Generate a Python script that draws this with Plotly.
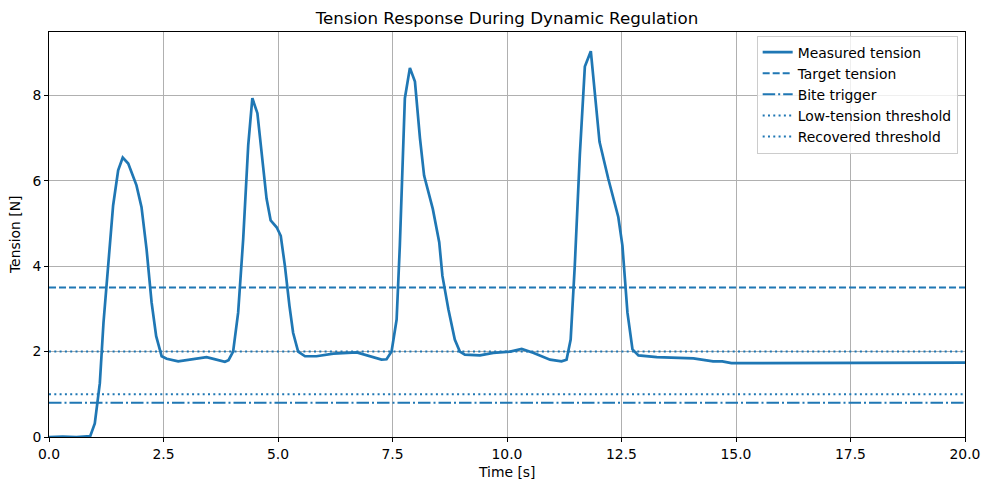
import plotly.graph_objects as go

# measured tension
time_s = [0.0, 0.3, 0.6, 0.9, 1.0, 1.11, 1.19, 1.26, 1.32, 1.40, 1.51, 1.61, 1.73, 1.91, 2.02,
          2.13, 2.24, 2.34, 2.46, 2.57, 2.82, 3.15, 3.44, 3.59, 3.84, 3.92, 4.02, 4.13, 4.24,
          4.35, 4.44, 4.55, 4.64, 4.75, 4.84, 4.97, 5.06, 5.15, 5.25, 5.33, 5.44, 5.59, 5.84,
          6.21, 6.72, 7.0, 7.26, 7.37, 7.48, 7.59, 7.66, 7.77, 7.88, 7.99, 8.10, 8.19, 8.38,
          8.52, 8.59, 8.72, 8.86, 8.97, 9.08, 9.41, 9.70, 10.07, 10.32, 10.57, 10.94, 11.19,
          11.30, 11.39, 11.48, 11.59, 11.70, 11.83, 12.02, 12.21, 12.43, 12.52, 12.63, 12.74,
          12.87, 13.27, 13.64, 14.07, 14.5, 14.7, 14.9, 15.5, 16.5, 17.5, 18.5, 20.0]
tension_n = [0.0, 0.01, 0.0, 0.02, 0.32, 1.26, 2.68, 3.6, 4.32, 5.42, 6.24, 6.54, 6.4, 5.89, 5.38,
             4.4, 3.15, 2.36, 1.89, 1.83, 1.77, 1.83, 1.87, 1.83, 1.76, 1.8, 2.0, 2.91, 4.63,
             6.83, 7.93, 7.58, 6.6, 5.58, 5.07, 4.91, 4.71, 4.01, 3.07, 2.44, 2.0, 1.89, 1.89,
             1.95, 1.98, 1.89, 1.81, 1.82, 2.0, 2.75, 4.48, 7.93, 8.64, 8.32, 6.99, 6.12, 5.34,
             4.56, 3.77, 2.99, 2.28, 2.0, 1.93, 1.91, 1.97, 2.0, 2.06, 1.97, 1.81, 1.77,
             1.81, 2.28, 4.01, 6.6, 8.67, 9.03, 6.91, 6.05, 5.15, 4.48, 2.91, 2.05,
             1.91, 1.87, 1.85, 1.84, 1.77, 1.77, 1.73, 1.73, 1.73, 1.74, 1.74, 1.74]

# reference levels
target_tension = 3.5
bite_trigger = 0.8
low_threshold = 1.0
recovered_threshold = 2.0

BLUE = "#1f77b4"
t_span = [0, 20]

# matplotlib-like dash patterns
DASHED = "7px,3px"
DASHDOT = "12.5px,3px,2px,3px"
DOTTED = "2px,3.3px"

fig = go.Figure()
fig.add_trace(go.Scatter(x=time_s, y=tension_n, mode="lines", name="Measured tension",
                         line=dict(color=BLUE, width=2.7)))
fig.add_trace(go.Scatter(x=t_span, y=[target_tension] * 2, mode="lines", name="Target tension",
                         line=dict(color=BLUE, width=2, dash=DASHED)))
fig.add_trace(go.Scatter(x=t_span, y=[bite_trigger] * 2, mode="lines", name="Bite trigger",
                         line=dict(color=BLUE, width=2, dash=DASHDOT)))
fig.add_trace(go.Scatter(x=t_span, y=[low_threshold] * 2, mode="lines", name="Low-tension threshold",
                         line=dict(color=BLUE, width=2, dash=DOTTED)))
fig.add_trace(go.Scatter(x=t_span, y=[recovered_threshold] * 2, mode="lines", name="Recovered threshold",
                         line=dict(color=BLUE, width=2, dash=DOTTED)))

axis_style = dict(showline=True, linecolor="black", linewidth=1, mirror=True,
                  showgrid=True, gridcolor="#b0b0b0", gridwidth=0.8, zeroline=False,
                  ticks="outside", ticklen=4, tickcolor="black", automargin=False,
                  tickfont=dict(size=13.9, color="black"))

# page has an 8px body margin, so the figure is a bit smaller than the window
fig.update_layout(
    width=973, height=474,
    margin=dict(l=41, r=16, t=24, b=45),
    paper_bgcolor="white", plot_bgcolor="white",
    font=dict(family="DejaVu Sans", color="black"),
    title=dict(text="Tension Response During Dynamic Regulation", x=0.5, xref="paper",
               xanchor="center", y=0.979, yanchor="middle", font=dict(size=16.7)),
    legend=dict(x=0.992, y=0.991, xanchor="right", yanchor="top",
                bgcolor="rgba(255,255,255,0.8)", bordercolor="#cccccc", borderwidth=1,
                font=dict(size=13.9), tracegroupgap=0, itemwidth=30),
    showlegend=True,
)
fig.update_xaxes(range=[0, 20], tickvals=[0, 2.5, 5, 7.5, 10, 12.5, 15, 17.5, 20],
                 tickformat=".1f", **axis_style)
fig.update_yaxes(range=[0, 9.48], tickvals=[0, 2, 4, 6, 8], **axis_style)

# axis titles as annotations so the margins stay fixed
fig.add_annotation(text="Time [s]", xref="paper", yref="paper", x=0.5, y=0,
                   xanchor="center", yanchor="middle", yshift=-35, showarrow=False,
                   font=dict(size=13.9))
fig.add_annotation(text="Tension [N]", xref="paper", yref="paper", x=0, y=0.5,
                   xanchor="center", yanchor="middle", xshift=-34.5, textangle=-90,
                   showarrow=False, font=dict(size=13.9))

fig.write_html("out.html")
